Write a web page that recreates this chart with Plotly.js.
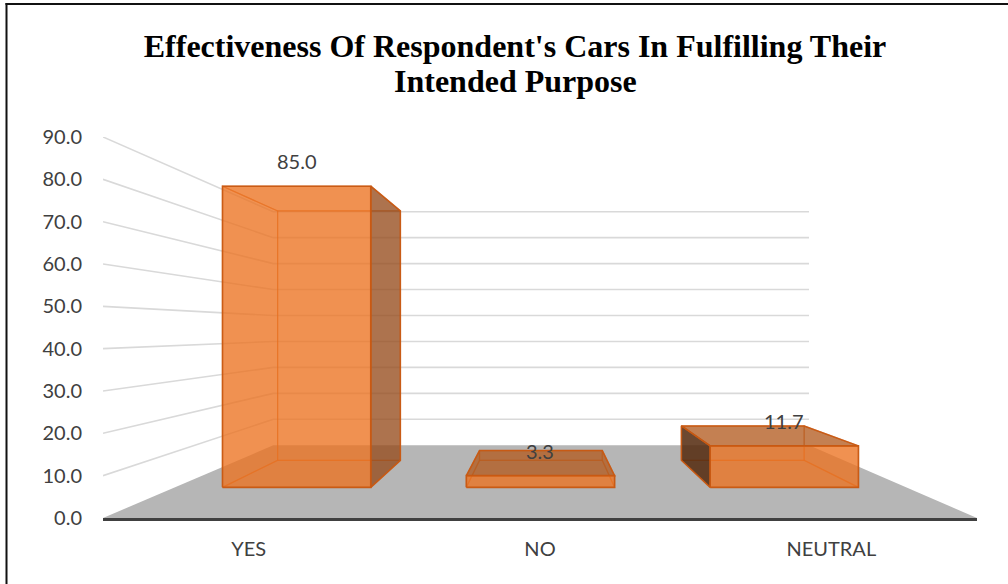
<!DOCTYPE html>
<html>
<head>
<meta charset="utf-8">
<script src="https://cdn.plot.ly/plotly-3.0.1.min.js"></script>
<style>
  html, body { margin: 0; padding: 0; background: #ffffff; }
  #chart { width: 1008px; height: 584px; }
</style>
</head>
<body>
<div id="chart"></div>
<script>
// ---- data ----
const categories = ['YES', 'NO', 'NEUTRAL'];
const percentages = [85.0, 3.3, 11.7];
const valueTicks = [0, 10, 20, 30, 40, 50, 60, 70, 80, 90];
const titleLines = ["Effectiveness Of Respondent's Cars In Fulfilling Their", 'Intended Purpose'];

// ---- page geometry ----
const W = 1008, H = 584;
const M = { l: 103, r: 31, t: 137, b: 66 };
const plotW = W - M.l - M.r;
const plotH = H - M.t - M.b;
const pxToPaperX = px => (px - M.l) / plotW;
const pxToPaperY = py => (H - M.b - py) / plotH;

// ---- simple one-point perspective in axis units ----
// s = 1 is the front edge of the floor, smaller s lies further back.
const EYE = { x: 1.01, v: 44.4 };
const DEPTH = { front: 1, barFront: 0.837, barBack: 0.693, wall: 0.613 };
const BAR_HALF = 0.304;
const X_MIN = -0.5, X_MAX = 2.5;

function project(x, v, s) {
  return [EYE.x + (x - EYE.x) * s, EYE.v + (v - EYE.v) * s];
}

function polyTrace(points, opts) {
  const pts = points.concat([points[0]]);
  return Object.assign({
    type: 'scatter', mode: 'lines',
    x: pts.map(p => p[0]), y: pts.map(p => p[1]),
    hoverinfo: 'skip', showlegend: false
  }, opts);
}

const traces = [];

// wall gridlines: along the left wall, then across the back wall
(function () {
  const gx = [], gy = [];
  valueTicks.filter(v => v > 0).forEach(v => {
    [project(X_MIN, v, DEPTH.front), project(X_MIN, v, DEPTH.wall), project(X_MAX, v, DEPTH.wall)]
      .forEach(p => { gx.push(p[0]); gy.push(p[1]); });
    gx.push(null); gy.push(null);
  });
  traces.push({
    type: 'scatter', mode: 'lines', x: gx, y: gy,
    line: { color: '#d9d9d9', width: 1.6 },
    hoverinfo: 'skip', showlegend: false
  });
})();

// floor
traces.push(polyTrace([
  project(X_MIN, 0, DEPTH.front), project(X_MAX, 0, DEPTH.front),
  project(X_MAX, 0, DEPTH.wall), project(X_MIN, 0, DEPTH.wall)
], { fill: 'toself', fillcolor: '#b6b6b6', line: { width: 0, color: 'rgba(0,0,0,0)' } }));

// translucent boxes
const EDGE = 'rgba(200,88,18,0.95)';
const EDGE_HIDDEN = 'rgba(214,100,30,0.55)';
categories.forEach((cat, i) => {
  const v = percentages[i];
  const x0 = i - BAR_HALF, x1 = i + BAR_HALF;
  const sf = DEPTH.barFront, sb = DEPTH.barBack;
  const FL0 = project(x0, 0, sf), FR0 = project(x1, 0, sf);
  const FLv = project(x0, v, sf), FRv = project(x1, v, sf);
  const BL0 = project(x0, 0, sb), BR0 = project(x1, 0, sb);
  const BLv = project(x0, v, sb), BRv = project(x1, v, sb);

  const faces = {
    back: [BL0, BR0, BRv, BLv],
    bottom: [FL0, FR0, BR0, BL0],
    left: [FL0, BL0, BLv, FLv],
    right: [FR0, BR0, BRv, FRv],
    top: [FLv, FRv, BRv, BLv]
  };
  const visible = {
    left: x0 > EYE.x,
    right: x1 < EYE.x,
    top: v < EYE.v,
    bottom: false,
    back: false
  };
  // hidden faces: edges only, seen through the front
  Object.keys(faces).forEach(k => {
    if (!visible[k]) traces.push(polyTrace(faces[k], { line: { color: EDGE_HIDDEN, width: 1.2 } }));
  });
  // visible side / top faces
  if (visible.right) traces.push(polyTrace(faces.right, { fill: 'toself', fillcolor: 'rgba(150,76,28,0.78)', line: { color: EDGE, width: 1.5 } }));
  if (visible.left) traces.push(polyTrace(faces.left, { fill: 'toself', fillcolor: 'rgba(84,42,14,0.86)', line: { color: EDGE, width: 1.5 } }));
  if (visible.top) traces.push(polyTrace(faces.top, { fill: 'toself', fillcolor: 'rgba(178,88,28,0.76)', line: { color: EDGE, width: 1.5 } }));
  // front face
  traces.push(polyTrace([FL0, FR0, FRv, FLv], { fill: 'toself', fillcolor: 'rgba(236,114,32,0.78)', line: { color: EDGE, width: 1.6 } }));
});

// value labels above the front top edge of each box
const annotations = categories.map((cat, i) => {
  const p = project(i, percentages[i], DEPTH.barFront);
  return {
    x: p[0], y: p[1], xref: 'x', yref: 'y',
    text: percentages[i].toFixed(1),
    showarrow: false, xanchor: 'center', yanchor: 'middle', yshift: 25,
    font: { family: 'Lato, "Open Sans", sans-serif', size: 20, color: '#404040' }
  };
});

// second title line
annotations.push({
  xref: 'paper', yref: 'paper',
  x: pxToPaperX(515), y: pxToPaperY(81),
  xanchor: 'center', yanchor: 'middle', showarrow: false,
  text: '<b>' + titleLines[1] + '</b>',
  font: { family: '"Liberation Serif", "Times New Roman", serif', size: 32, color: '#000000' }
});

// outer frame (left and top edges)
const shapes = [
  { type: 'line', xref: 'paper', yref: 'paper',
    x0: pxToPaperX(6.5), x1: pxToPaperX(6.5), y0: pxToPaperY(3), y1: pxToPaperY(H + 2),
    line: { color: '#111111', width: 2 } },
  { type: 'line', xref: 'paper', yref: 'paper',
    x0: pxToPaperX(5.5), x1: pxToPaperX(W + 2), y0: pxToPaperY(4), y1: pxToPaperY(4),
    line: { color: '#111111', width: 2 } }
];

const tickFont = { family: 'Lato, "Open Sans", sans-serif', size: 20, color: '#404040' };

const layout = {
  width: W, height: H,
  margin: M,
  paper_bgcolor: '#ffffff', plot_bgcolor: 'rgba(0,0,0,0)',
  hovermode: false,
  showlegend: false,
  title: {
    text: '<b>' + titleLines[0] + '</b>',
    font: { family: '"Liberation Serif", "Times New Roman", serif', size: 32, color: '#000000' },
    xref: 'container', yref: 'container',
    x: 515 / W, xanchor: 'center',
    y: 1 - 46 / H, yanchor: 'middle'
  },
  xaxis: {
    range: [X_MIN, X_MAX],
    tickvals: categories.map((c, i) => i), ticktext: categories,
    showgrid: false, zeroline: false,
    showline: true, linecolor: '#404040', linewidth: 3,
    ticks: '', ticklabelstandoff: 11,
    tickfont: tickFont, fixedrange: true
  },
  yaxis: {
    range: [0, 90],
    tickvals: valueTicks, tickformat: '.1f',
    showgrid: false, zeroline: false, showline: false,
    ticks: '', ticklabelstandoff: 20,
    tickfont: tickFont, fixedrange: true
  },
  annotations: annotations,
  shapes: shapes
};

Plotly.newPlot('chart', traces, layout, { displayModeBar: false, staticPlot: true });
</script>
</body>
</html>
